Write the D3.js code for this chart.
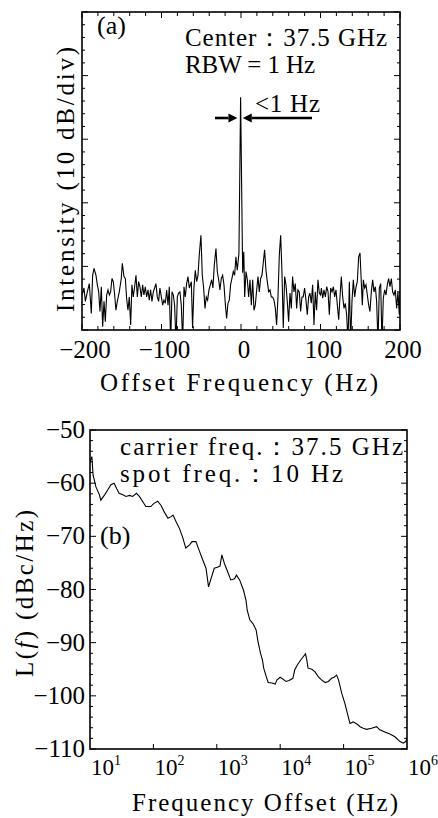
<!DOCTYPE html>
<html>
<head>
<meta charset="utf-8">
<script src="https://cdn.jsdelivr.net/npm/d3@7"></script>
<style>
	html, body { margin: 0; padding: 0; background: #fff; }
	#chart { width: 438px; height: 818px; }
</style>
</head>
<body>
<div id="chart"></div>
<script>
//data: panel (a), beat spectrum (offset Hz, dB above bottom of frame)
const spectrumOffsetHz = [
	-200, -197.5, -195.8, -193.3, -190.8, -188.3, -186.6, -184.9, -182.4, -180.7,
	-179, -177.4, -175.7, -174, -172.3, -170.7, -169, -167.3, -165.6, -164,
	-162.3, -160.6, -158.9, -157.3, -155.6, -153.1, -150.6, -149.3, -147.2, -145.5,
	-143.9, -142.2, -140.5, -138.8, -137.2, -135.5, -133.8, -132.1, -130.4, -128.8,
	-127.1, -125.4, -123.7, -122.1, -120.4, -118.7, -117, -115.4, -113.7, -112,
	-110.3, -108.7, -107, -105.3, -103.6, -102, -100.2, -98.5, -96.9, -95.2,
	-93.5, -91.8, -90.2, -88.5, -86.8, -85.1, -83.5, -81.8, -80.1, -78.4,
	-76.8, -75.1, -73.4, -71.7, -70.1, -68.4, -66.7, -65, -62.5, -60.9,
	-59.2, -57.5, -55.8, -54.1, -52.5, -50.4, -48.7, -47, -45.3, -43.7,
	-42, -40.3, -38.6, -36.9, -35.3, -33.6, -31.5, -29.8, -28.1, -26.5,
	-24.8, -23.1, -21.4, -19.8, -18.1, -16.4, -14.7, -13.1, -11.4, -9.7,
	-8, -6.4, -4.7, -2.6, -0.5, 2.1, 3.5, 4.6, 6.3, 8,
	9.6, 11.3, 13, 14.7, 16.3, 18, 19.7, 21.4, 23, 24.7,
	26.4, 28.1, 29.7, 31.4, 33.1, 34.8, 36.5, 38.1, 39.8, 41.5,
	43.2, 44.8, 46.5, 48.2, 49.9, 51.5, 53.2, 54.9, 56.6, 58.2,
	59.9, 61.6, 63.3, 64.9, 66.6, 68.3, 70, 71.6, 73.3, 75,
	76.7, 78.3, 80, 81.7, 83.4, 85.1, 86.7, 88.4, 90.1, 91.8,
	93.4, 95.1, 96.8, 98.5, 100.1, 101.1, 102.8, 104.4, 106.1, 107.8,
	109.5, 111.1, 112.8, 114.5, 116.2, 117.8, 119.5, 121.2, 122.9, 124.5,
	126.2, 127.9, 129.6, 131.2, 132.9, 134.6, 136.3, 137.9, 139.6, 141.3,
	143, 144.7, 146.3, 148, 149.7, 151.4, 152.6, 153.9, 155.5, 157.2,
	158.9, 160.6, 162.2, 163.9, 165.6, 167.3, 169, 170.6, 172.3, 174,
	175.7, 177.3, 179, 180.7, 182.4, 184, 185.7, 187.4, 189.1, 190.7,
	192.4, 194.1, 195.8, 197.4, 199.1, 200,
];
const spectrumLevelDb = [
	5.5, 6.6, 4.5, 6.0, 7.3, 2.6, 8.6, 9.7, 8.6, 7.1,
	6.0, 2.9, 6.8, 0.5, 4.5, 1.3, 5.5, 6.3, 5.5, 6.0,
	8.1, 7.6, 5.5, 3.1, 4.5, 6.0, 8.1, 10.5, 8.4, 8.1,
	5.0, 3.1, 5.2, 0.8, 7.1, 5.2, 6.8, 8.6, 5.2, 7.6,
	6.8, 5.2, 7.1, 5.5, 6.8, 5.2, 6.3, 4.7, 6.3, 4.5,
	6.0, 6.6, 7.3, 5.2, 4.5, 6.6, 5.2, 3.9, 4.7, 4.2,
	6.3, 3.9, 6.8, -2, 6.0, 5.5, 3.9, -2, 5.2, 5.8,
	6.0, 3.9, -2, 6.8, 5.2, 7.3, 8.4, 6.6, 7.6, 0.3,
	6.6, 9.4, 7.6, 8.6, 11.8, 14.9, 8.6, 6.6, 3.4, 5.2,
	4.7, 6.3, 7.1, 7.9, 6.6, 10.2, 12.8, 9.2, 7.9, 6.3,
	8.1, 8.6, 7.1, 4.2, 1.8, 4.2, 4.7, 7.1, 8.1, 9.2,
	8.6, 11.5, 9.4, 12.0, 36.6, 9.0, 12.3, 5.2, 9.2, 7.9,
	5.2, 7.9, 3.9, 7.9, 3.1, 3.9, 6.3, 8.4, 6.0, 8.1,
	8.6, 10.7, 12.6, 9.4, 7.6, 6.0, 6.3, 5.2, 5.2, 4.7,
	3.4, 0.8, 5.2, 11.8, 14.9, 9.2, 0.3, 8.4, 7.1, 4.5,
	1.3, 5.8, 3.4, 8.4, 6.0, 7.3, 3.4, 6.3, 6.0, 2.9,
	5.2, 5.2, 6.6, 4.7, 2.4, 5.2, 5.8, 4.2, 7.1, 0.8,
	6.0, 3.1, 7.9, 5.8, 5.5, 6.6, 5.0, 6.3, 5.2, 6.8,
	6.0, 2.4, 6.6, 6.0, 6.8, 5.2, 6.3, 3.9, 1.6, 5.2,
	8.4, 5.2, 3.4, 4.2, 2.4, -2, 7.6, -2, 4.5, 7.9,
	5.2, 6.8, 7.6, 11.5, 12.1, 7.3, 3.9, 7.9, 6.6, 7.1,
	5.5, 3.9, 2.9, 6.0, 7.9, 6.0, 6.8, 4.5, -2, 6.6,
	7.3, -2, 5.0, 6.3, 5.5, 7.1, 8.1, 6.8, 8.1, 6.0,
	5.5, 6.3, 3.4, 6.0, 2.4, 6.0,
];
const spectrumTicks = [-200, -100, 0, 100, 200];

//data: panel (b), single sideband phase noise L(f)
const noiseOffsetHz = [
	10, 10.7, 11.2, 12.4, 14.1, 14.8, 17, 19, 21.4, 24,
	26.3, 28.8, 33, 37, 42, 47, 54, 60, 68, 76,
	91, 102, 117, 132, 148, 170, 190, 204, 229, 257,
	288, 324, 372, 407, 468, 525, 603, 676, 741, 813,
	912, 1023, 1122, 1202, 1318, 1479, 1660, 1905, 2042, 2291,
	2630, 2884, 3020, 3311, 3715, 4169, 4467, 4898, 5248, 5495,
	6026, 6457, 7413, 8318, 8913, 10000, 11220, 12300, 13800, 15850,
	16980, 18620, 20900, 22900, 25100, 26300, 27500, 31600, 35500, 39800,
	44700, 51300, 57500, 64600, 70800, 77600, 83200, 93300, 104700, 114800,
	125900, 141300, 162200, 182000, 204200, 229100, 275400, 331100, 371500, 446700,
	537000, 645700, 776200, 871000, 955000, 1000000,
];
const noiseLevelDbc = [
	-56.0, -55.0, -58.5, -60.7, -62.2, -63.2, -62.2, -61.3, -60.3, -60.0,
	-61.0, -61.9, -62.2, -62.5, -62.3, -62.5, -61.9, -62.5, -63.5, -64.4,
	-64.4, -63.8, -63.4, -64.2, -65.4, -66.6, -66.3, -66.0, -67.3, -68.5,
	-70.1, -72.2, -71.6, -71.0, -71.0, -72.6, -74.5, -76.0, -79.5, -77.9,
	-76.0, -75.8, -75.6, -73.5, -75.1, -76.6, -78.2, -78.0, -77.3, -78.2,
	-80.1, -82.0, -83.9, -85.7, -86.4, -87.6, -89.8, -92.0, -93.3, -94.8,
	-96.4, -97.5, -97.6, -97.8, -97.0, -96.5, -96.9, -97.3, -97.1, -96.7,
	-95.1, -94.2, -93.3, -92.7, -92.1, -93.3, -94.8, -95.0, -95.5, -96.4,
	-97.0, -97.5, -97.3, -96.7, -96.5, -96.1, -97.0, -99.5, -101.4, -103.3,
	-105.2, -104.9, -105.3, -105.8, -106.1, -106.3, -106.1, -105.8, -106.4, -106.8,
	-107.2, -107.7, -108.6, -108.9, -108.6, -108.0,
];
const noiseYTicks = [-110, -100, -90, -80, -70, -60, -50];
const noiseXTicks = [1e1, 1e2, 1e3, 1e4, 1e5, 1e6];

render();

function render() {
	let props = {
		width: 438,
		height: 818,
		lineColor: '#000',
		// the original uses a Song-style serif; Liberation Serif is spaced out to its widths
		textFont: '"Liberation Serif", "DejaVu Serif", serif',
		serifFont: '"Liberation Serif", "DejaVu Serif", serif',
	};

	let svg = d3
		.select('#chart')
		.append('svg')
		.attr('width', props.width)
		.attr('height', props.height);

	drawSpectrum(svg, props);
	drawPhaseNoise(svg, props);
}

function drawSpectrum(svg, props) {
	const { lineColor, textFont, serifFont } = props;
	const left = 82,
		right = 400,
		top = 12,
		bottom = 330;

	let x = d3.scaleLinear().domain([-200, 200]).range([left, right]);
	let y = d3.scaleLinear().domain([0, 50]).range([bottom, top]);

	let g = svg.append('g').attr('class', 'panel-a');

	g.append('clipPath')
		.attr('id', 'clip-a')
		.append('rect')
		.attr('x', left)
		.attr('y', top)
		.attr('width', right - left)
		.attr('height', bottom - top);

	let line = d3
		.line()
		.x((d) => x(d[0]))
		.y((d) => y(d[1]));

	g.append('path')
		.datum(d3.zip(spectrumOffsetHz, spectrumLevelDb))
		.attr('clip-path', 'url(#clip-a)')
		.attr('fill', 'none')
		.attr('stroke', lineColor)
		.attr('stroke-width', 1.1)
		.attr('d', line);

	//ticks, pointing inwards on all four sides
	let ticks = g.append('g').attr('stroke', lineColor).attr('stroke-width', 1);
	d3.range(-200, 201, 20).forEach((v) => {
		let len = v % 100 === 0 ? 6 : 4;
		ticks.append('line').attr('x1', x(v)).attr('x2', x(v)).attr('y1', bottom).attr('y2', bottom - len);
		ticks.append('line').attr('x1', x(v)).attr('x2', x(v)).attr('y1', top).attr('y2', top + len);
	});
	d3.range(0, 51, 2).forEach((v) => {
		let len = v % 10 === 0 ? 6 : 3;
		ticks.append('line').attr('x1', left).attr('x2', left + len).attr('y1', y(v)).attr('y2', y(v));
		ticks.append('line').attr('x1', right).attr('x2', right - len).attr('y1', y(v)).attr('y2', y(v));
	});

	g.append('rect')
		.attr('x', left)
		.attr('y', top)
		.attr('width', right - left)
		.attr('height', bottom - top)
		.attr('fill', 'none')
		.attr('stroke', lineColor)
		.attr('stroke-width', 1.6);

	g.selectAll('.x-label')
		.data(spectrumTicks)
		.enter()
		.append('text')
		.attr('class', 'x-label')
		.attr('x', (d) => x(d) + 3)
		.attr('y', 358)
		.attr('text-anchor', 'middle')
		.attr('font-family', serifFont)
		.attr('font-size', 25)
		.text(d3.format('d'));

	addText(g, 100, 391, 'Offset Frequency (Hz)', 278, textFont, 25);
	addText(g, 0, 0, 'Intensity (10 dB/div)', 265, textFont, 25).attr(
		'transform',
		translation(74, 312) + ' rotate(-90)'
	);

	g.append('text')
		.attr('x', 97)
		.attr('y', 34)
		.attr('font-family', serifFont)
		.attr('font-size', 26)
		.text('(a)');
	addText(g, 185, 46, 'Center：37.5 GHz', 202, textFont, 25);
	addText(g, 185, 73, 'RBW = 1 Hz', 130, textFont, 25);
	addText(g, 255, 112, '<1 Hz', 65, textFont, 25);

	//linewidth arrows pointing at the carrier
	let ay = 118;
	arrow(g, 215, x(-4.5), ay, lineColor);
	arrow(g, 312, x(2.2), ay, lineColor);
}

function drawPhaseNoise(svg, props) {
	const { lineColor, textFont, serifFont } = props;
	const left = 90,
		right = 407,
		top = 430,
		bottom = 749;

	let x = d3.scaleLog().domain([1e1, 1e6]).range([left, right]);
	let y = d3.scaleLinear().domain([-110, -50]).range([bottom, top]);

	let g = svg.append('g').attr('class', 'panel-b');

	g.append('clipPath')
		.attr('id', 'clip-b')
		.append('rect')
		.attr('x', left)
		.attr('y', top)
		.attr('width', right - left)
		.attr('height', bottom - top);

	let line = d3
		.line()
		.x((d) => x(d[0]))
		.y((d) => y(d[1]));

	g.append('path')
		.datum(d3.zip(noiseOffsetHz, noiseLevelDbc))
		.attr('clip-path', 'url(#clip-b)')
		.attr('fill', 'none')
		.attr('stroke', lineColor)
		.attr('stroke-width', 1.1)
		.attr('d', line);

	let ticks = g.append('g').attr('stroke', lineColor).attr('stroke-width', 1);
	d3.range(-110, -49, 2).forEach((v) => {
		let len = v % 10 === 0 ? 6 : 3;
		ticks.append('line').attr('x1', left).attr('x2', left + len).attr('y1', y(v)).attr('y2', y(v));
		ticks.append('line').attr('x1', right).attr('x2', right - len).attr('y1', y(v)).attr('y2', y(v));
	});
	noiseXTicks.slice(1, -1).forEach((v) => {
		ticks.append('line').attr('x1', x(v)).attr('x2', x(v)).attr('y1', bottom).attr('y2', bottom - 5);
	});

	g.append('rect')
		.attr('x', left)
		.attr('y', top)
		.attr('width', right - left)
		.attr('height', bottom - top)
		.attr('fill', 'none')
		.attr('stroke', lineColor)
		.attr('stroke-width', 1.6);

	g.selectAll('.y-label')
		.data(noiseYTicks)
		.enter()
		.append('text')
		.attr('class', 'y-label')
		.attr('x', 85)
		.attr('y', (d) => y(d) + 8)
		.attr('text-anchor', 'end')
		.attr('font-family', serifFont)
		.attr('font-size', 25)
		.text(d3.format('d'));

	let xLabels = g
		.selectAll('.x-label')
		.data(noiseXTicks)
		.enter()
		.append('text')
		.attr('class', 'x-label')
		.attr('x', (d) => x(d) + 1)
		.attr('y', 775)
		.attr('font-family', serifFont)
		.attr('font-size', 23);
	xLabels.append('tspan').text('10');
	xLabels
		.append('tspan')
		.attr('dy', -10)
		.attr('font-size', 14)
		.text((d) => Math.round(Math.log10(d)));

	addText(g, 132, 811, 'Frequency Offset (Hz)', 266, textFont, 25);

	let yTitle = g
		.append('text')
		.attr('transform', translation(33, 677) + ' rotate(-90)')
		.attr('font-family', textFont)
		.attr('font-size', 25)
		.attr('textLength', 167)
		.attr('lengthAdjust', 'spacing');
	yTitle.append('tspan').text('L(');
	yTitle.append('tspan').attr('font-style', 'italic').text('f');
	yTitle.append('tspan').text(')  (dBc/Hz)');

	addText(g, 120, 455, 'carrier freq.：37.5 GHz', 283, textFont, 25);
	addText(g, 120, 482, 'spot freq.：10 Hz', 223, textFont, 25);
	g.append('text')
		.attr('x', 100)
		.attr('y', 544)
		.attr('font-family', serifFont)
		.attr('font-size', 26)
		.text('(b)');
}

//utils
function addText(g, x, y, str, len, family, size) {
	return g
		.append('text')
		.attr('x', x)
		.attr('y', y)
		.attr('font-family', family)
		.attr('font-size', size)
		.attr('textLength', len)
		.attr('lengthAdjust', 'spacing')
		.text(str);
}

function arrow(g, from, to, y, color) {
	let dir = to > from ? 1 : -1;
	let head = 9;
	g.append('line')
		.attr('x1', from)
		.attr('x2', to - dir * head)
		.attr('y1', y)
		.attr('y2', y)
		.attr('stroke', color)
		.attr('stroke-width', 2.6);
	g.append('path')
		.attr('d', `M${to},${y} L${to - dir * head},${y - 4.5} L${to - dir * head},${y + 4.5} Z`)
		.attr('fill', color);
}

function translation(x, y) {
	return `translate(${x}, ${y})`;
}
</script>
</body>
</html>
